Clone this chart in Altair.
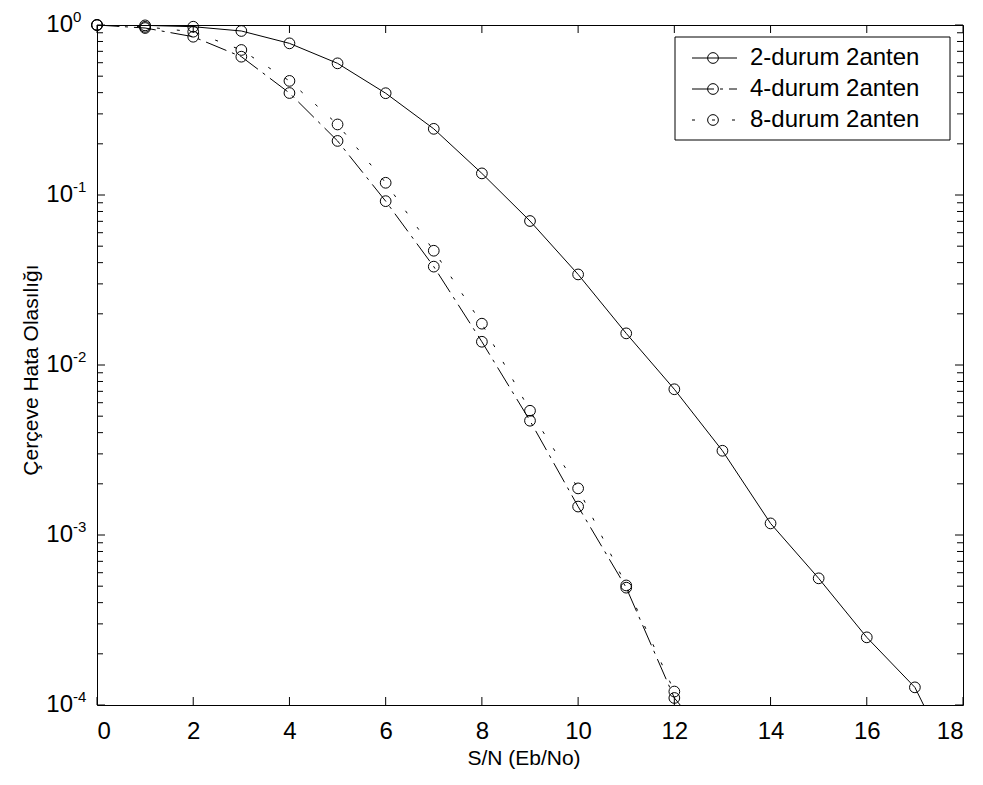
import altair as alt
import pandas as pd

FONT = "Liberation Sans"

snr = list(range(0, 19))
names = ["2-durum 2anten", "4-durum 2anten", "8-durum 2anten"]
p2 = [1.0, 0.995, 0.977, 0.922, 0.78, 0.595, 0.397, 0.245, 0.134, 0.0703,
      0.0341, 0.01535, 0.0072, 0.00313, 0.00117, 0.000556, 0.00025, 0.000127, 3.4e-5]
p4 = [1.0, 0.96, 0.853, 0.651, 0.398, 0.208, 0.092, 0.0379, 0.0137, 0.0047,
      0.00147, 0.00049, 0.00011, 5e-5]
p8 = [1.0, 0.975, 0.913, 0.713, 0.469, 0.26, 0.118, 0.047, 0.0175, 0.00538,
      0.00188, 0.000505, 0.00012]
dashes = [None, [22, 6, 3, 6], [3, 17]]

x_ticks = list(range(0, 19, 2))
decades = [1.0, 0.1, 0.01, 0.001, 0.0001]
exponents = ["0", "-1", "-2", "-3", "-4"]
minors = [m * d for d in decades[1:] for m in range(2, 10)]

W, H = 866, 680
TICK_FS = 24
xscale = alt.Scale(domain=[0, 18], nice=False, zero=False)
yscale = alt.Scale(type="log", domain=[1e-4, 1], nice=False)

X = alt.X("snr:Q", scale=xscale,
          axis=alt.Axis(values=x_ticks, ticks=False, tickSize=0, domain=False, grid=False,
                        title=None, labelFont=FONT, labelFontSize=TICK_FS, labelColor="black",
                        labelPadding=14))
Y = alt.Y("pe:Q", scale=yscale, axis=None)

layers = []
for name, vals, dash in zip(names, [p2, p4, p8], dashes):
    df = pd.DataFrame({"snr": snr[:len(vals)], "pe": vals})
    lk = dict(color="black", strokeWidth=1, clip=True)
    if dash:
        lk["strokeDash"] = dash
    layers.append(alt.Chart(df).mark_line(**lk).encode(x=X, y=Y))
    layers.append(
        alt.Chart(df).transform_filter("datum.pe >= 0.0001")
        .mark_point(shape="circle", filled=False, size=115, color="black", strokeWidth=1, opacity=1)
        .encode(x=X, y=Y)
    )

# inward ticks (x)
xt = pd.DataFrame({"snr": x_ticks})
for y0, y1 in [(H, H - 8), (0, 8)]:
    layers.append(alt.Chart(xt).mark_rule(color="black", strokeWidth=1)
                  .encode(x=alt.X("snr:Q", scale=xscale), y=alt.value(y0), y2=alt.value(y1)))
# inward ticks (y)
ymaj = pd.DataFrame({"pe": decades})
ymin = pd.DataFrame({"pe": minors})
for d, L in [(ymaj, 8), (ymin, 6)]:
    for x0, x1 in [(0, L), (W, W - L)]:
        layers.append(alt.Chart(d).mark_rule(color="black", strokeWidth=1)
                      .encode(y=alt.Y("pe:Q", scale=yscale), x=alt.value(x0), x2=alt.value(x1)))

# y tick labels: 10 with superscript exponent
ylab = pd.DataFrame({"pe": decades, "exp": exponents, "base": ["10"] * 5})
layers.append(alt.Chart(ylab).mark_text(align="right", baseline="middle", font=FONT,
                                        fontSize=TICK_FS, color="black", dy=0)
              .encode(y=alt.Y("pe:Q", scale=yscale), x=alt.value(-24), text="base:N"))
layers.append(alt.Chart(ylab).mark_text(align="left", baseline="middle", font=FONT,
                                        fontSize=15, color="black", dy=-8)
              .encode(y=alt.Y("pe:Q", scale=yscale), x=alt.value(-24), text="exp:N"))

# axis titles
ttl = pd.DataFrame({"t": ["S/N (Eb/No)"]})
layers.append(alt.Chart(ttl).mark_text(align="center", baseline="middle", font=FONT,
                                       fontSize=21, color="black")
              .encode(x=alt.value(W / 2 - 6), y=alt.value(H + 54), text="t:N"))
ytl = pd.DataFrame({"t": ["Çerçeve Hata Olasılığı"]})
layers.append(alt.Chart(ytl).mark_text(align="center", baseline="middle", font=FONT,
                                       fontSize=21, color="black", angle=270)
              .encode(x=alt.value(-65), y=alt.value(H / 2 + 5), text="t:N"))

# legend
box = pd.DataFrame({"k": [0]})
layers.append(alt.Chart(box).mark_rect(fill="white", stroke="black", strokeWidth=1)
              .encode(x=alt.value(578), x2=alt.value(853), y=alt.value(12), y2=alt.value(115)))
row_y = [33, 64, 95]
for name, dash, ry in zip(names, dashes, row_y):
    ld = pd.DataFrame({"name": [name]})
    rk = dict(color="black", strokeWidth=1)
    if dash:
        rk["strokeDash"] = dash
    layers.append(alt.Chart(ld).mark_rule(**rk)
                  .encode(x=alt.value(595), x2=alt.value(640), y=alt.value(ry)))
    layers.append(alt.Chart(ld).mark_point(shape="circle", filled=False, size=115, color="black",
                                           strokeWidth=1, opacity=1)
                  .encode(x=alt.value(616), y=alt.value(ry)))
    layers.append(alt.Chart(ld).mark_text(align="left", baseline="middle", font=FONT,
                                          fontSize=24, color="black")
                  .encode(x=alt.value(653), y=alt.value(ry), text="name:N"))

chart = (
    alt.layer(*layers)
    .properties(width=W, height=H,
                padding={"left": 89, "top": 17, "right": 12, "bottom": 72},
                autosize=alt.AutoSizeParams(type="none"),
                background="white")
    .configure_view(stroke="black", strokeWidth=1)
)

chart.save("out.html", embed_options={"renderer": "svg", "actions": False})
